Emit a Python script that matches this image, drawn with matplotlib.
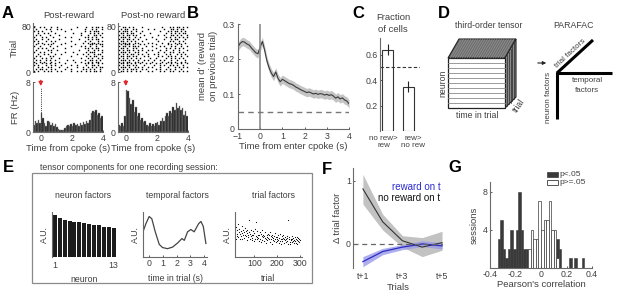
import numpy as np
import matplotlib
matplotlib.use("Agg")
import matplotlib.pyplot as plt
from matplotlib.patches import Polygon, Rectangle

plt.rcParams['font.family'] = ['Liberation Sans', 'DejaVu Sans']
plt.rcParams['font.size'] = 6.5
for k in ['text.color', 'axes.labelcolor', 'xtick.color', 'ytick.color']:
    plt.rcParams[k] = '#404040'
plt.rcParams['axes.edgecolor'] = '#6a6a6a'
plt.rcParams['axes.linewidth'] = 0.8

# --- A: rasters (rows = trial blocks, top row = trial 80; cols = 0.125 s bins from -0.5 s) ---
raster_reward = [
    "#..#.#...#..#.........#....#..#.##.#",
    ".#....#.#...#.#....#......#...#.#..#",
    "#.#.#....#......#.........#..#.###..",
    "..#..#.#...#........#...#....#.#.#.#",
    ".#.#....#....#..........#...#..##.#.",
    "#...#.#...#.....#..#......#.#.#.#..#",
    ".#..#..#.....#.........#....#.#.##..",
    "#.#...#..#.#.......#......#..#...#.#",
    "..#.#.....#.....#........#..#.##.#..",
    ".#...#.#.#....#......#.......##.#.##",
    "#..#....#...#......#....#.#..#..#..#",
    "..#.#.#...#.....#.........#.#.#.##..",
    ".#.....#.#..#..........#....#..#.#.#",
    "#..#.#...#......#...#......#.###...#",
    "..#..#.#...#..#.......#..#..#..#.##.",
    ".#.#....#.#........#.......#.#.##..#",
    "#...#.#..#...#..........#...#.#..#.#",
    ".#.#..#.#..#.....#..#.....#..##.#.#.",
    "#..#.#...#...#.......#..#...#.#.##..",
    ".#..#.#.#..#....#.........#.#.#..#.#",
    "#.#...#..#.#..#....#..#....#..##.#..",
    "..#.#..#.#...#...#....#..#..#.#.#.##",
    ".#.##.#..#.#....#..#.....#.#.#.#..#.",
    "#.#..#.#.#..#.#....#..#.#..#.#.##.#.",
]
raster_noreward = [
    "..##.#.#....#.........#...#.#.##.#.#",
    ".#.##..#.#.....#..#....#...##.#.##..",
    "#.###.#..#..#........#...#.#.##.#.#.",
    ".##.#.##...#....#.......#..#.#.#.##.",
    "#.#.##.#.#...#......#..#...##.#.#..#",
    ".###.#..#..#.....#......#.#..#.#.#.#",
    "#.#.##.#..#...#....#...#...#.##...#.",
    ".##.#.#.#...#.......#.....#.#..#.#..",
    "#.##.#..#.#....#.#....#..#...#.#..#.",
    ".#.###.#...#.#.....#.....#.#..#.#...",
    "#.##.#.##.#...#..#...#.#...#.#..#..#",
    ".##.#..#.#..#......#....#.#..#.#.#..",
    "#.#.##.#..#.#..#.#...#..#...#..#...#",
    ".###.#..#.#...#.....#..#..#.#..#.#..",
    "#.#.#.##..#.#..#..#.#...#.#...#.#.#.",
    ".##.##.#.#...#.#....#.#..#.#.#..#..#",
    "#.#.#.#..#.#....#..#....#..#.#.#.#..",
    ".###.#.#..#..#.#..#..#.#...#..#...#.",
    "#.#.##..#.#.#....#....#..#.#.#..#.#.",
    ".##.#.#.#..#..#.#..#.#..#..#..#.#..#",
    "#.#.##.#.#...#....#..#.#..#.#.#..#..",
    ".###.#..#.#.#..#.#...#...#...#.#.#.#",
    "#.#.#.##.#..#.#....#.#..#.#..#..#...",
    ".##.#.#..#.#...#.#...#.#..#.#..#.#.#",
]
# --- A: PSTH, 0.1 s bins starting at -0.5 s (Hz) ---
psth_reward = [1.2, 1.8, 1.5, 2.0, 1.4, 3.0, 2.2, 1.5, 1.0, 1.8, 1.6, 1.2, 1.5, 1.0, 1.3,
               0.8, 0.5, 0.3, 0.3, 0.4, 0.6, 1.0, 1.2, 0.9, 1.3, 1.0, 1.4, 1.1, 1.3, 1.0,
               1.5, 1.2, 1.6, 1.3, 1.8, 1.5, 2.0, 3.0, 3.4, 3.2, 3.5, 2.8, 3.0, 2.2, 2.6]
psth_noreward = [1.2, 1.0, 1.5, 1.0, 2.5, 6.8, 6.5, 5.5, 4.5, 5.2, 3.2, 4.0, 2.6, 3.0, 2.0,
                 2.2, 1.6, 1.8, 1.2, 1.0, 1.4, 0.9, 1.3, 1.0, 1.5, 1.6, 1.2, 1.8, 2.2, 1.7,
                 2.5, 3.0, 2.6, 3.4, 3.1, 4.0, 3.6, 4.6, 3.8, 4.2, 3.5, 3.8, 2.8, 3.4, 2.5]

# --- B: mean d', 0.1 s steps from -1 to 4 s ---
dprime = [0.235, 0.245, 0.250, 0.248, 0.243, 0.240, 0.232, 0.225, 0.218, 0.215,
          0.235, 0.250, 0.225, 0.195, 0.175, 0.160, 0.150, 0.163, 0.145, 0.135,
          0.142, 0.138, 0.134, 0.130, 0.128, 0.125, 0.120, 0.117, 0.113, 0.110,
          0.107, 0.104, 0.106, 0.103, 0.100, 0.102, 0.099, 0.101, 0.100, 0.097,
          0.099, 0.096, 0.098, 0.094, 0.088, 0.092, 0.086, 0.089, 0.083, 0.080, 0.072]
dprime_sem = 0.012

# --- C ---
frac_labels = ["no rew>\nrew", "rew>\nno rew"]
frac_vals = [0.64, 0.35]
frac_err = [0.04, 0.045]

# --- E ---
neuron_factors = [1.0, 0.93, 0.89, 0.87, 0.85, 0.83, 0.81, 0.80, 0.78, 0.76, 0.73, 0.72, 0.70]
temporal_t = [-0.45, -0.24, 0.0, 0.19, 0.44, 0.73, 0.97, 1.33, 1.70, 2.06, 2.38, 2.55,
              2.79, 3.03, 3.27, 3.59, 3.76, 3.93, 4.12]
temporal_v = [0.56, 0.74, 0.90, 0.85, 0.56, 0.28, 0.21, 0.185, 0.22, 0.31, 0.41, 0.37,
              0.56, 0.61, 0.56, 0.74, 0.79, 0.68, 0.30]
trial_factors = [56, 48, 63, 42, 71, 52, 45, 59, 66, 39, 51, 60, 47, 74, 44, 55, 63, 41, 51, 57,
                 46, 68, 53, 40, 60, 49, 56, 42, 64, 50, 47, 58, 37, 53, 61, 44, 49, 83, 55, 40,
                 52, 46, 59, 38, 50, 43, 57, 48, 35, 54, 62, 41, 47, 78, 39, 45, 58, 43, 50, 36,
                 48, 55, 41, 33, 52, 46, 60, 38, 44, 50, 35, 47, 42, 56, 39, 31, 49, 45, 37, 52,
                 43, 40, 48, 34, 55, 41, 46, 30, 44, 50, 38, 42, 35, 47, 53, 39, 33, 45, 41, 36,
                 44, 38, 49, 32, 42, 36, 51, 40, 29, 46, 39, 35, 43, 48, 31, 41, 37, 45, 34, 40,
                 47, 36, 42, 30, 82, 39, 44, 34, 28, 41, 37, 46, 33, 40, 36, 43, 31, 38, 45, 35,
                 39, 32, 44, 37, 30, 42, 35, 40, 33, 38]

# --- F ---
f_trials = [1, 2, 3, 4, 5]
f_norew = [0.87, 0.35, 0.05, -0.05, 0.02]
f_norew_lo = [0.63, 0.22, -0.05, -0.20, -0.10]
f_norew_hi = [1.10, 0.47, 0.13, 0.10, 0.20]
f_rew = [-0.28, -0.12, -0.05, 0.00, -0.03]
f_rew_lo = [-0.36, -0.17, -0.09, -0.04, -0.08]
f_rew_hi = [-0.20, -0.07, -0.01, 0.05, 0.02]

# --- G: histogram, 0.02 bins starting at -0.34 ---
g_edge0 = -0.34
g_sig = [3, 5, 2, 1, 2, 4, 2, 4, 8, 4, 2, 2, 0, 0, 0, 0, 0, 0, 0, 0, 0, 0, 0, 3, 2,
         0, 0, 0, 1, 0, 1, 0, 0, 1]
g_ns = [0, 0, 0, 0, 0, 0, 0, 0, 0, 0, 0, 0, 2, 4, 3, 3, 7, 4, 5, 5, 7, 4, 4, 1, 0,
        0, 0, 0, 0, 0, 0, 0, 0, 0]

W, H = 617, 297
fig = plt.figure(figsize=(6.17, 2.97), dpi=100)
TICK = 6.3
LAB = 6.8


def px_axes(l, t, w, h):
    return fig.add_axes([l / W, 1 - (t + h) / H, w / W, h / H])


def clean(ax, left=True, bottom=True):
    ax.spines['top'].set_visible(False)
    ax.spines['right'].set_visible(False)
    ax.spines['left'].set_visible(left)
    ax.spines['bottom'].set_visible(bottom)
    ax.tick_params(length=1.5, width=0.6, pad=1.5, labelsize=TICK, direction='in')
    ax.patch.set_alpha(0)


def raster_xy(rows, t0=-0.5, dt=0.125, ntr=80):
    xs, ys = [], []
    n = len(rows)
    for i, row in enumerate(rows):
        for j, ch in enumerate(row):
            if ch == '#':
                xs.append(t0 + (j + 0.5) * dt)
                ys.append((n - i - 0.5) * ntr / n)
    return xs, ys


# ---------------- A ----------------
for l, rows, psth, arrow_line in [(33, raster_reward, psth_reward, True),
                                  (118, raster_noreward, psth_noreward, False)]:
    ra = px_axes(l, 23, 70, 49)
    xs, ys = raster_xy(rows)
    ra.plot(xs, ys, 's', ms=1.0, color='k', mew=0)
    ra.set_xlim(-0.5, 4.0)
    ra.set_ylim(0, 86)
    ra.set_yticks([0, 80])
    ra.set_xticks([])
    clean(ra, bottom=False)

    ha = px_axes(l, 82, 70, 50)
    bins = -0.5 + 0.1 * np.arange(len(psth))
    ha.bar(bins, psth, width=0.1, align='edge', color='#1c1c1c', edgecolor='#8a8a8a', linewidth=0.3)
    ha.set_xlim(-0.5, 4.0)
    ha.set_ylim(0, 8)
    ha.set_yticks([0, 8])
    ha.set_xticks([0, 2, 4])
    clean(ha)
    if arrow_line:
        ha.plot([0, 0], [0, 7], ls=(0, (1, 1.2)), color='#333', lw=0.7)
    ha.annotate('', xy=(0, 6.9), xytext=(0, 8.7), xycoords='data', annotation_clip=False,
                arrowprops=dict(arrowstyle='-|>,head_width=0.18,head_length=0.35',
                                color='#e3262b', lw=1.0))
    ha.set_xlabel('Time from cpoke (s)', fontsize=LAB, labelpad=1)
    if l == 33:
        ra.set_ylabel('Trial', fontsize=LAB, labelpad=2)
        ha.set_ylabel('FR (Hz)', fontsize=LAB, labelpad=4)

# ---------------- B ----------------
axb = px_axes(238, 24, 111, 105)
tb = np.round(np.arange(-1.0, 4.05, 0.1), 2)
db = np.array(dprime)
axb.fill_between(tb, db - dprime_sem, db + dprime_sem, color='#c4c4c4', lw=0)
axb.plot(tb, db, color='#3a3a3a', lw=0.8)
axb.axvline(0, color='#8c8c8c', lw=1.2)
axb.axhline(0.05, color='#777', lw=1.0, ls=(0, (4, 3)))
axb.set_xlim(-1, 4)
axb.set_ylim(0, 0.3)
axb.set_yticks([0, 0.1, 0.2, 0.3])
axb.set_yticklabels(['0', '0.1', '0.2', '0.3'])
axb.set_xticks([-1, 0, 1, 2, 3, 4])
clean(axb)
axb.tick_params(axis='x', pad=2.5)
axb.tick_params(axis='y', pad=2.5)
axb.set_xlabel('Time from enter cpoke (s)', fontsize=LAB, labelpad=0.5)

# ---------------- C ----------------
axc = px_axes(380, 38, 40, 93.5)
axc.bar([0, 1], frac_vals, width=0.55, color='white', edgecolor='#333', lw=0.8)
axc.errorbar([0, 1], frac_vals, yerr=frac_err, fmt='none', ecolor='#222', elinewidth=0.8)
axc.axhline(0.5, color='#333', lw=0.8, ls=(0, (3, 2)))
axc.set_xlim(-0.375, 1.575)
axc.set_ylim(0, 0.73)
axc.set_yticks([0.2, 0.4, 0.6])
axc.set_xticks([0, 1])
axc.set_xticklabels(['', ''])
clean(axc, bottom=False)
axc.tick_params(axis='x', length=0)
# category labels spread a little so they do not collide
for xi, lab, dx in zip([0, 1], frac_labels, [-0.2, 0.25]):
    axc.text(xi + dx, -0.04, lab, fontsize=5.8, ha='center', va='top', linespacing=1.05,
             transform=axc.get_xaxis_transform())

# ---------------- E ----------------
ne = px_axes(52, 212, 64, 45)
ne.bar(np.arange(1, 14), neuron_factors, width=0.82, color='#1c1c1c')
ne.set_xlim(0.4, 13.5)
ne.set_ylim(0, 1.08)
ne.set_yticks([])
ne.set_xticks([1, 13])
clean(ne, bottom=False)
ne.tick_params(axis='x', length=0, pad=3)
ne.set_ylabel('A.U.', fontsize=TICK, labelpad=2)
ne.set_xlabel('neuron', fontsize=TICK, labelpad=3.5)

te = px_axes(143, 212, 64, 45)
te.plot(temporal_t, temporal_v, color='#444', lw=0.9)
te.set_xlim(-0.45, 4.2)
te.set_ylim(0, 1)
te.set_yticks([])
te.set_xticks([0, 1, 2, 3, 4])
clean(te)
te.set_ylabel('A.U.', fontsize=TICK, labelpad=2)
te.set_xlabel('time in trial (s)', fontsize=TICK, labelpad=4)

tr = px_axes(235, 212, 67, 45)
trials = np.arange(2, 301, 2)
tr.scatter(trials, np.array(trial_factors) / 100, s=0.7, color='k', lw=0)
tr.set_xlim(15, 310)
tr.set_ylim(0, 1)
tr.set_yticks([])
tr.set_xticks([100, 200, 300])
clean(tr)
tr.set_ylabel('A.U.', fontsize=TICK, labelpad=2)
tr.set_xlabel('trial', fontsize=TICK, labelpad=4)

# ---------------- F ----------------
axf = px_axes(353, 168, 90, 100)
axf.fill_between(f_trials, f_norew_lo, f_norew_hi, color='#c2c2c2', lw=0)
axf.fill_between(f_trials, f_rew_lo, f_rew_hi, color='#9a9aea', alpha=0.8, lw=0)
axf.plot(f_trials, f_norew, color='#333', lw=0.8)
axf.plot(f_trials, f_rew, color='#2b2bc0', lw=0.9)
axf.axhline(0, color='#666', lw=0.9, ls=(0, (4, 3)))
axf.set_xlim(0.5, 5.05)
axf.set_ylim(-0.38, 1.2)
axf.set_yticks([0, 1])
axf.set_xticks([1, 3, 5])
axf.set_xticklabels(['t+1', 't+3', 't+5'])
clean(axf, bottom=False)
axf.tick_params(axis='x', length=0, pad=3)
axf.set_ylabel('Δ trial factor', fontsize=LAB, labelpad=3)
axf.set_xlabel('Trials', fontsize=LAB, labelpad=1)
axf.text(0.97, 0.81, 'reward on t', color='#2b2bd0', fontsize=7, ha='right', va='center',
         transform=axf.transAxes)
axf.text(0.97, 0.70, 'no reward on t', color='#111', fontsize=7, ha='right', va='center',
         transform=axf.transAxes)

# ---------------- G ----------------
axg = px_axes(490, 182, 102, 86)
g_left = g_edge0 + 0.02 * np.arange(len(g_sig))
axg.bar(g_left, g_sig, width=0.02, align='edge', color='#3a3a3a', edgecolor='#3a3a3a', lw=0.4)
axg.bar(g_left, g_ns, width=0.02, align='edge', color='white', edgecolor='#3a3a3a', lw=0.5)
axg.set_xlim(-0.4, 0.4)
axg.set_ylim(0, 9)
axg.set_yticks([4, 8])
axg.set_xticks([-0.4, -0.2, 0, 0.2, 0.4])
axg.set_xticklabels(['-0.4', '-0.2', '0', '0.2', '0.4'])
clean(axg)
axg.set_ylabel('sessions', fontsize=LAB, labelpad=3)
axg.set_xlabel("Pearson's correlation", fontsize=LAB, labelpad=1)

# ---------------- overlay: letters, titles, diagram ----------------
ov = fig.add_axes([0, 0, 1, 1])
ov.set_xlim(0, W)
ov.set_ylim(H, 0)
ov.axis('off')
ov.patch.set_alpha(0)

for letter, x, y in [('A', 8, 13), ('B', 193, 13), ('C', 358, 13), ('D', 444, 13),
                     ('E', 8, 167), ('F', 327, 170), ('G', 455, 168)]:
    ov.text(x, y, letter, fontsize=12, fontweight='bold', color='k', ha='center', va='center')

ov.text(69, 16, 'Post-reward', fontsize=LAB, ha='center', va='center')
ov.text(153, 16, 'Post-no reward', fontsize=LAB, ha='center', va='center')
ov.text(208, 66, "mean d' (reward\non previous trial)", fontsize=LAB, rotation=90,
        ha='center', va='center', linespacing=1.15)
ov.text(393, 17, 'Fraction', fontsize=LAB, ha='center', va='center')
ov.text(393, 29, 'of cells', fontsize=LAB, ha='center', va='center')

# tensor cube
front = [(448, 58), (505, 58), (505, 108), (448, 108)]
top = [(448, 58), (459, 39), (516, 39), (505, 58)]
side = [(505, 58), (516, 39), (516, 97), (505, 108)]
ov.add_patch(Polygon(top, closed=True, facecolor='#6f6f6f', edgecolor='#222', lw=0.8))
for k in range(1, 24):
    x0 = 448 + k * 57 / 24
    ov.plot([x0, x0 + 11], [58, 39], color='#9a9a9a', lw=0.4)
ov.add_patch(Polygon(side, closed=True, facecolor='#8a8a8a', edgecolor='#222', lw=0.8))
for k in range(1, 6):
    x0 = 505 + k * 11 / 6
    ov.plot([x0, x0], [58 - k * 19 / 6, 108 - k * 11 / 6], color='#2a2a2a', lw=0.5)
ov.add_patch(Polygon(front, closed=True, facecolor='white', edgecolor='#222', lw=0.9))
for k in range(1, 10):
    y0 = 58 + k * 5
    ov.plot([448, 505], [y0, y0], color='#8a8a8a', lw=0.6)
ov.text(489, 26, 'third-order tensor', fontsize=TICK, ha='center', va='center')
ov.text(443, 83, 'neuron', fontsize=TICK, rotation=90, ha='center', va='center')
ov.text(477, 116, 'time in trial', fontsize=TICK, ha='center', va='center')
ov.text(519, 106, 'trial', fontsize=TICK, rotation=55, ha='center', va='center')
ov.annotate('', xy=(549, 63), xytext=(535, 63),
            arrowprops=dict(arrowstyle='-|>,head_width=0.15,head_length=0.3', color='#222', lw=0.8))
ov.text(573, 26, 'PARAFAC', fontsize=TICK, ha='center', va='center')
ov.plot([557, 557], [72, 119], color='k', lw=2.2, solid_capstyle='butt')
ov.plot([556, 612], [73, 73], color='k', lw=2.2, solid_capstyle='butt')
ov.plot([557, 593], [73, 40], color='k', lw=2.2, solid_capstyle='butt')
ov.text(570, 54, 'trial factors', fontsize=5.8, rotation=43, ha='center', va='center')
ov.text(587, 81, 'temporal', fontsize=5.8, ha='center', va='center')
ov.text(587, 91, 'factors', fontsize=5.8, ha='center', va='center')
ov.text(548, 97, 'neuron factors', fontsize=5.8, rotation=90, ha='center', va='center')

# E frame and titles
ov.add_patch(Rectangle((32, 173), 280, 110, fill=False, edgecolor='#8a8a8a', lw=0.9))
ov.text(40, 167, 'tensor components for one recording session:', fontsize=TICK, ha='left', va='center')
ov.text(83, 196, 'neuron factors', fontsize=TICK, ha='center', va='center')
ov.text(177, 196, 'temporal factors', fontsize=TICK, ha='center', va='center')
ov.text(273, 196, 'trial factors', fontsize=TICK, ha='center', va='center')

# G legend
ov.add_patch(Rectangle((547, 172), 11, 4.5, facecolor='#3a3a3a', edgecolor='#3a3a3a', lw=0.5))
ov.add_patch(Rectangle((547, 180), 11, 4.5, facecolor='white', edgecolor='#3a3a3a', lw=0.6))
ov.text(559, 174.2, 'p<.05', fontsize=6, ha='left', va='center')
ov.text(559, 182.2, 'p>=.05', fontsize=6, ha='left', va='center')

fig.savefig('out.png', dpi=100)
